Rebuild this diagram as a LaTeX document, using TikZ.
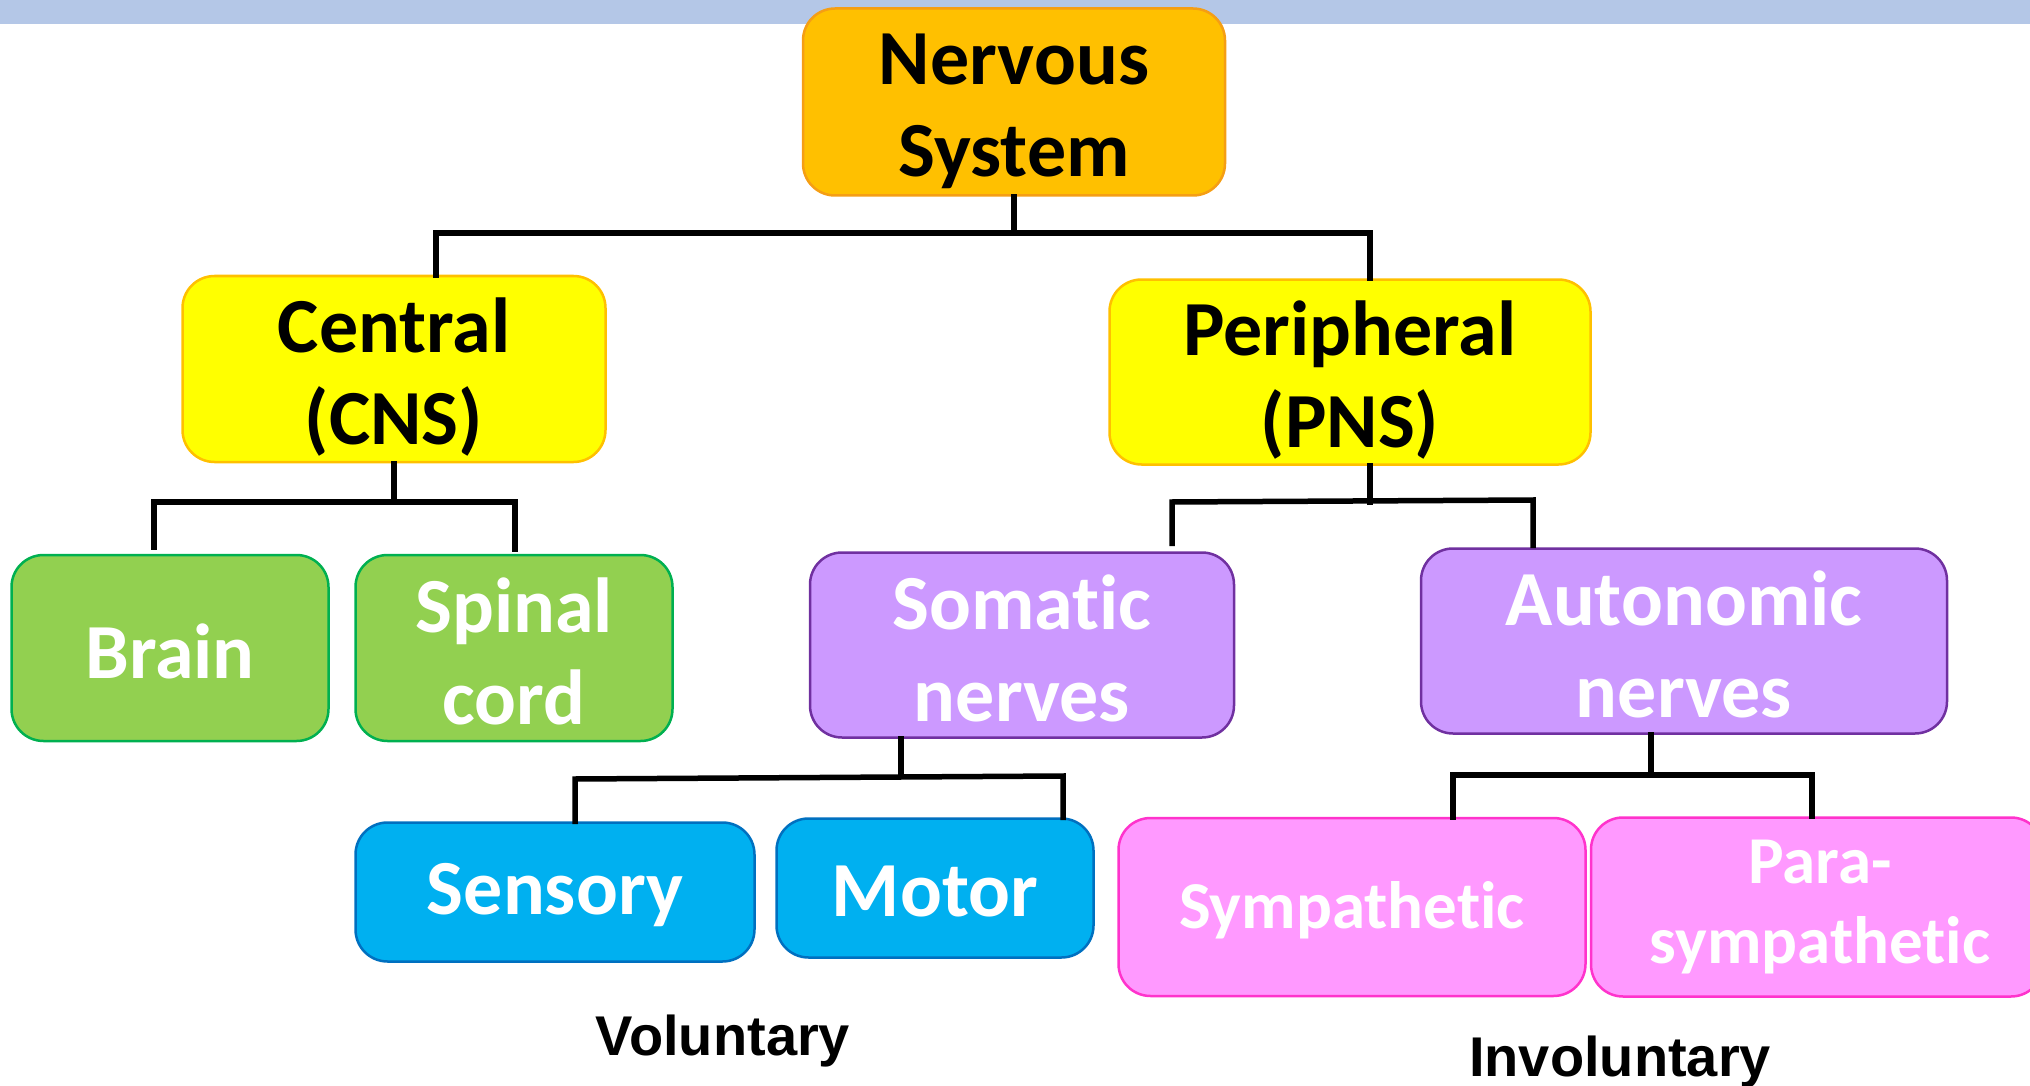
\documentclass[tikz,border=0pt]{standalone}
\usepackage{fontspec}
\setmainfont[Ligatures=CommonOff]{Carlito}
\newfontfamily\arialfont{Liberation Sans}
\definecolor{barblue}{RGB}{180,199,231}
\definecolor{orangefill}{RGB}{255,192,0}
\definecolor{orangeline}{RGB}{245,158,20}
\definecolor{yellowfill}{RGB}{255,255,0}
\definecolor{yellowline}{RGB}{255,192,0}
\definecolor{greenfill}{RGB}{146,208,80}
\definecolor{greenline}{RGB}{0,176,80}
\definecolor{purplefill}{RGB}{204,153,255}
\definecolor{purpleline}{RGB}{112,48,160}
\definecolor{bluefill}{RGB}{0,176,240}
\definecolor{blueline}{RGB}{0,112,192}
\definecolor{pinkfill}{RGB}{255,153,255}
\definecolor{pinkline}{RGB}{255,51,204}

\begin{document}
\begin{tikzpicture}[x=1pt, y=-1pt]
		\tikzstyle{every node}=[font=\bfseries\fontsize{78}{92}\selectfont]
		\tikzstyle{box}=[rectangle, rounded corners=32pt, line width=2.5pt, inner sep=0pt]
		\tikzstyle{dark}=[align=center, text=black]
		\tikzstyle{light}=[align=center, text=white]
		\tikzstyle{link}=[line width=5.5pt, line cap=rect]
		\useasboundingbox (0,0) rectangle (2030,1086);
		\clip (0,0) rectangle (2030,1086);
		\fill[barblue] (0,0) rectangle (2030,24);

		% top level
		\node[box, fill=orangefill, draw=orangeline, minimum width=422pt, minimum height=187pt, label={[dark, yshift=-9pt]center:{Nervous\\System}}] (ns) at (1014,102) {};
		\node[box, fill=yellowfill, draw=yellowline, minimum width=423pt, minimum height=186pt, label={[dark, yshift=-8pt]center:{Central\\(CNS)}}] (cns) at (394,369) {};
		\node[box, fill=yellowfill, draw=yellowline, minimum width=481pt, minimum height=185pt, label={[dark, yshift=-8pt]center:{Peripheral\\(PNS)}}] (pns) at (1350,372) {};

		% second level
		\node[box, fill=greenfill, draw=greenline, minimum width=317pt, minimum height=186pt, label={[light, yshift=-3pt]center:{Brain}}] (brain) at (170,648) {};
		\node[box, fill=greenfill, draw=greenline, minimum width=317pt, minimum height=186pt, label={[light, yshift=-3pt]center:{Spinal\\cord}}] (spinal) at (514,648) {};
		\node[box, fill=purplefill, draw=purpleline, minimum width=424pt, minimum height=185pt, label={[light, yshift=-3pt]center:{Somatic\\nerves}}] (somatic) at (1022,645) {};
		\node[box, fill=purplefill, draw=purpleline, minimum width=526pt, minimum height=185pt, label={[light, yshift=-3pt]center:{Autonomic\\nerves}}] (auto) at (1684,641) {};

		% third level
		\node[box, fill=bluefill, draw=blueline, minimum width=399pt, minimum height=139pt, label={[light, yshift=-3pt]center:{Sensory}}] (sensory) at (555,892) {};
		\node[box, fill=bluefill, draw=blueline, minimum width=317pt, minimum height=139pt, label={[light, yshift=-3pt]center:{Motor}}] (motor) at (935,888) {};
		\node[box, fill=pinkfill, draw=pinkline, minimum width=467pt, minimum height=178pt, label={[light, yshift=-3pt, font=\bfseries\fontsize{67}{80}\selectfont]center:{Sympathetic}}] (symp) at (1352,907) {};
		\node[box, fill=pinkfill, draw=pinkline, minimum width=452pt, minimum height=179pt, label={[light, xshift=3pt, font=\bfseries\fontsize{67}{80}\selectfont]center:{Para-\\sympathetic}}] (para) at (1817,907) {};

		% captions
		\node[font=\arialfont\bfseries\fontsize{56}{60}\selectfont, anchor=base] (vol) at (723,1055) {Voluntary};
		\node[font=\arialfont\bfseries\fontsize{56}{60}\selectfont, anchor=base] (invol) at (1620,1076) {Involuntary};

		% connectors
		\coordinate (nsL) at (436,233);
		\coordinate (nsR) at (1370,233);
		\draw[link] (ns.south) -- (ns.south |- nsL);
		\draw[link] (cns.north -| nsL) -- (nsL) -- (nsR) -- (pns.north -| nsR);

		\coordinate (cnsL) at (154,502);
		\coordinate (cnsR) at (515,502);
		\draw[link] (cns.south) -- (cns.south |- cnsL);
		\draw[link] ([yshift=7pt]brain.north -| cnsL) -- (cnsL) -- (cnsR) -- ([yshift=5pt]spinal.north -| cnsR);

		\coordinate (pnsL) at (1172,502);
		\coordinate (pnsR) at (1533,500);
		\draw[link] ([xshift=20pt]pns.south) -- ([xshift=20pt]pns.south |- pnsL);
		\draw[link] ([yshift=8pt]somatic.north -| pnsL) -- (pnsL) -- (pnsR) -- ([yshift=2pt]auto.north -| pnsR);

		\coordinate (somL) at (575,779);
		\coordinate (somR) at (1063,776);
		\draw[link] ([xshift=-121pt]somatic.south) -- ([xshift=-121pt]somatic.south |- somR);
		\draw[link] (sensory.north -| somL) -- (somL) -- (somR) -- (motor.north -| somR);

		\coordinate (autL) at (1453,775);
		\coordinate (autR) at (1812,775);
		\draw[link] ([xshift=-33pt]auto.south) -- ([xshift=-33pt]auto.south |- autL);
		\draw[link] (symp.north -| autL) -- (autL) -- (autR) -- (para.north -| autR);
	\end{tikzpicture}
\end{document}
